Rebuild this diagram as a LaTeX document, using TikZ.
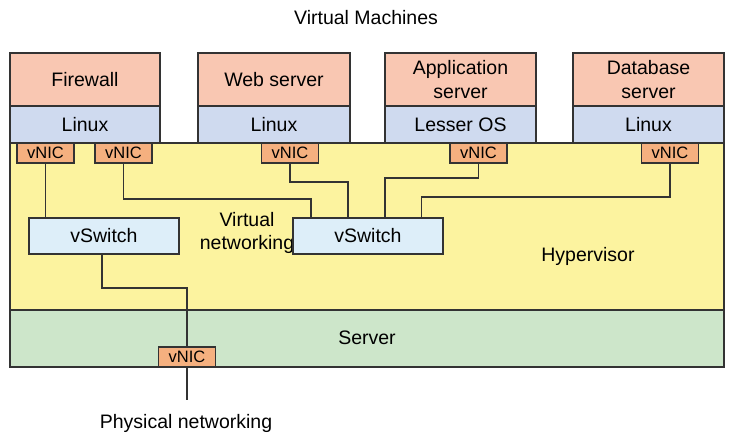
\documentclass[tikz,border=0pt]{standalone}
\usepackage{fontspec}
\setmainfont{Liberation Sans}
\definecolor{vmred}{HTML}{F9C7B2}
\definecolor{osblue}{HTML}{CFDAEF}
\definecolor{hvyellow}{HTML}{FCF39F}
\definecolor{srvgreen}{HTML}{CDE6CA}
\definecolor{nicorange}{HTML}{F5B07F}
\definecolor{swblue}{HTML}{DDEEF9}
\definecolor{edge}{HTML}{333333}
\tikzset{
  box/.style={draw=edge, line width=1.4pt, inner sep=0pt, align=center, font=\fontsize{19.5}{23.5}\selectfont},
  vmbox/.style={box, fill=vmred, minimum height=53pt},
  osbox/.style={box, fill=osblue, minimum height=37pt},
  nicbox/.style={draw=edge, line width=1.3pt, fill=nicorange, minimum width=57pt, minimum height=20pt, inner sep=0pt, font=\fontsize{16.5}{18}\selectfont},
  swbox/.style={box, fill=swblue, minimum width=150pt, minimum height=36pt},
  wire/.style={draw=edge, line width=1.5pt},
  lbl/.style={align=center, font=\fontsize{19.5}{23.5}\selectfont}
}
\begin{document}
\begin{tikzpicture}[x=1pt,y=-1pt]
\useasboundingbox[fill=white] (0,0) rectangle (734,442);
% layers
\node[box, fill=hvyellow, minimum width=714pt, minimum height=167pt] (hv) at (367,226.5) {};
\node[box, fill=srvgreen, minimum width=714pt, minimum height=57pt] (srv) at (367,338.5) {};
% titles
\node[lbl, font=\fontsize{19.5}{22}\selectfont] (vmt) at (366,18) {Virtual Machines};
\node[lbl] (hvl) at (588,256) {Hypervisor};
\node[lbl] (srvl) at (367,338) {Server};
\node[lbl] (vnet) at (247,233) {Virtual\\networking};
% VMs
\node[vmbox, minimum width=150pt] (fw) at (85,79.5) {Firewall};
\node[osbox, minimum width=150pt] (fwos) at (85,124.5) {Linux};
\node[vmbox, minimum width=152pt] (web) at (274,79.5) {Web server};
\node[osbox, minimum width=152pt] (webos) at (274,124.5) {Linux};
\node[vmbox, minimum width=151pt] (app) at (460.5,79.5) {Application\\server};
\node[osbox, minimum width=151pt] (appos) at (460.5,124.5) {Lesser OS};
\node[vmbox, minimum width=151pt] (db) at (648.5,79.5) {Database\\server};
\node[osbox, minimum width=151pt] (dbos) at (648.5,124.5) {Linux};
% vNICs
\node[nicbox] (n1) at (45.5,153) {vNIC};
\node[nicbox] (n2) at (123.5,153) {vNIC};
\node[nicbox] (n3) at (290,153) {vNIC};
\node[nicbox] (n4) at (478.5,153) {vNIC};
\node[nicbox] (n5) at (670,153) {vNIC};
\node[nicbox] (pn) at (187,357) {vNIC};
% vSwitches
\node[swbox] (sw1) at (104,236) {vSwitch};
\node[swbox] (sw2) at (368,236) {vSwitch};
% junctions
\coordinate (j2) at (311,199);
\coordinate (j3) at (348,182);
\coordinate (j4) at (385,178);
\coordinate (j5) at (421.5,197);
\coordinate (j6) at (102,288);
\coordinate (pend) at (187,400);
% wires
\draw[wire] (n1.south) -- (n1.south |- sw1.north);
\draw[wire] (n2.south) |- (j2) -- (j2 |- sw2.north);
\draw[wire] (n3.south) |- (j3) -- (j3 |- sw2.north);
\draw[wire] (n4.south) |- (j4) -- (j4 |- sw2.north);
\draw[wire] (n5.south) |- (j5) -- (j5 |- sw2.north);
\draw[wire] (j6 |- sw1.south) -- (j6) -| (pn.north);
\draw[wire] (pn.south) -- (pend);
\node[lbl] (phys) at (186,423) {Physical networking};
\end{tikzpicture}
\end{document}
